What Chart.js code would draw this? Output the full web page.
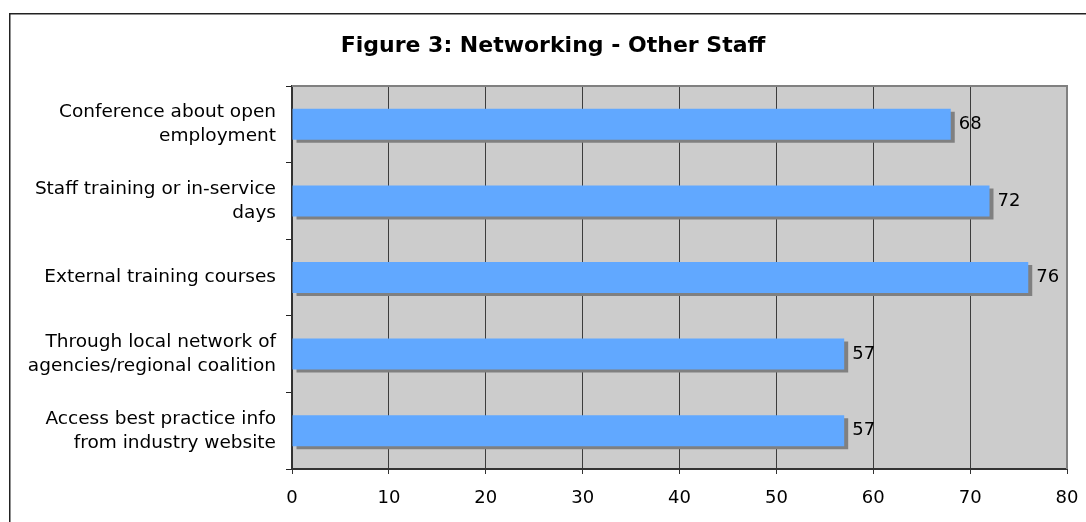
<!DOCTYPE html>
<html lang="en">
<head>
    <meta charset="UTF-8">
    <title>Figure 3: Networking - Other Staff</title>
    <script src="https://cdn.jsdelivr.net/npm/chart.js"></script>
    <style>
        html, body { margin: 0; padding: 0; background: #fff; }
        .chart-box { position: relative; width: 1086px; height: 522px; }
    </style>
</head>
<body>
    <div class="chart-box">
        <canvas id="networkChart"></canvas>
    </div>

    <script>
        // data
        const chartTitle = 'Figure 3: Networking - Other Staff';
        const categories = [
            ['Conference about open', 'employment'],
            ['Staff training or in-service', 'days'],
            'External training courses',
            ['Through local network of', 'agencies/regional coalition'],
            ['Access best practice info', 'from industry website']
        ];
        const values = [68, 72, 76, 57, 57];
        const axisMin = 0;
        const axisMax = 80;
        const axisStep = 10;

        const fontFamily = '"DejaVu Sans", Verdana, sans-serif';

        // grey plot background, outer frame, title and the grey top/right edges
        const plotFrame = {
            id: 'plotFrame',
            beforeDraw(chart) {
                const { ctx, chartArea: a } = chart;
                ctx.save();
                ctx.fillStyle = '#cccccc';
                ctx.fillRect(a.left, a.top, a.right - a.left, a.bottom - a.top);
                ctx.strokeStyle = '#222';
                ctx.lineWidth = 1.5;
                ctx.strokeRect(9.75, 13.75, 1200, 1000);
                // title is centred on the outer frame, not on the plot
                ctx.fillStyle = '#000';
                ctx.font = 'bold 22px ' + fontFamily;
                ctx.textAlign = 'center';
                ctx.textBaseline = 'alphabetic';
                ctx.fillText(chartTitle, 553, 52);
                ctx.restore();
            },
            afterDraw(chart) {
                const { ctx, chartArea: a } = chart;
                ctx.save();
                ctx.strokeStyle = '#808080';
                ctx.lineWidth = 2;
                ctx.beginPath();
                ctx.moveTo(a.left, a.top);
                ctx.lineTo(a.right, a.top);
                ctx.lineTo(a.right, a.bottom);
                ctx.stroke();
                ctx.restore();
            }
        };

        // flat drop shadow under the bars + value labels
        const barShadow = {
            id: 'barShadow',
            beforeDatasetsDraw(chart) {
                const ctx = chart.ctx;
                ctx.save();
                ctx.shadowColor = '#808080';
                ctx.shadowBlur = 0;
                ctx.shadowOffsetX = 4;
                ctx.shadowOffsetY = 3;
            },
            afterDatasetsDraw(chart) {
                const ctx = chart.ctx;
                ctx.restore();
                ctx.save();
                ctx.fillStyle = '#000';
                ctx.font = '18px ' + fontFamily;
                ctx.textAlign = 'left';
                ctx.textBaseline = 'middle';
                chart.getDatasetMeta(0).data.forEach((bar, i) => {
                    ctx.fillText(values[i], bar.x + 8, bar.y);
                });
                ctx.restore();
            }
        };

        new Chart(document.getElementById('networkChart'), {
            type: 'bar',
            data: {
                labels: categories,
                datasets: [{
                    data: values,
                    backgroundColor: '#61a8ff',
                    borderWidth: 0,
                    barPercentage: 0.45,
                    categoryPercentage: 0.9
                }]
            },
            options: {
                indexAxis: 'y',
                responsive: true,
                maintainAspectRatio: false,
                animation: false,
                layout: { padding: { left: 0, right: 19, top: 86, bottom: 0 } },
                plugins: {
                    legend: { display: false },
                    tooltip: { enabled: false },
                    title: { display: false }
                },
                scales: {
                    x: {
                        min: axisMin,
                        max: axisMax,
                        ticks: {
                            stepSize: axisStep,
                            color: '#000',
                            padding: 14,
                            maxRotation: 0,
                            font: { family: fontFamily, size: 18 }
                        },
                        grid: { color: '#3c3c3c', lineWidth: 1, tickLength: 5, tickColor: '#333' },
                        border: { color: '#333', width: 2 },
                        afterFit(scale) {
                            scale.height = 53;
                            // "80" fits inside the right margin, no extra room needed
                            scale.paddingLeft = 0;
                            scale.paddingRight = 0;
                        }
                    },
                    y: {
                        ticks: {
                            color: '#000',
                            padding: 10,
                            font: { family: fontFamily, size: 18.5, lineHeight: '24px' }
                        },
                        grid: { drawOnChartArea: false, drawTicks: true, tickLength: 6, tickColor: '#222', offset: true },
                        border: { color: '#333', width: 2 },
                        afterFit(scale) { scale.width = 292; }
                    }
                }
            },
            plugins: [plotFrame, barShadow]
        });
    </script>
</body>
</html>
